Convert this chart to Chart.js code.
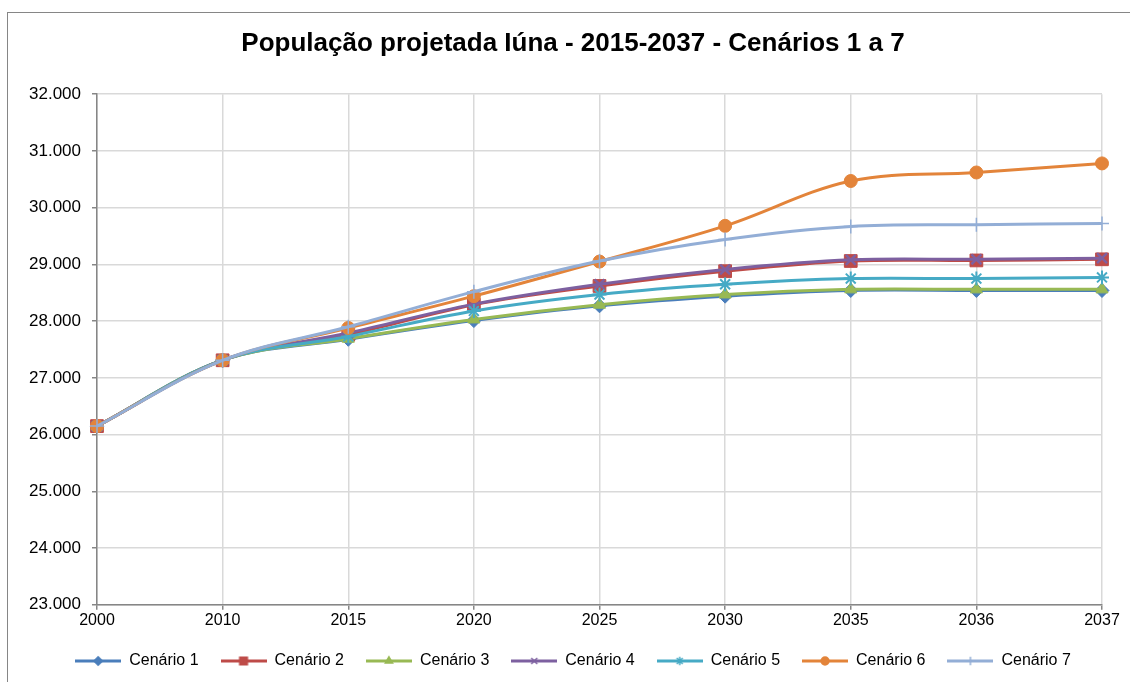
<!DOCTYPE html>
<html lang="pt-BR">
<head>
  <meta charset="UTF-8">
  <title>População projetada Iúna - 2015-2037</title>
  <script src="https://cdn.jsdelivr.net/npm/chart.js"></script>
  <style>
    html, body { margin: 0; padding: 0; background: #fff; overflow: hidden; }
    /* moldura do gráfico (sai pela direita e por baixo, como no original) */
    .chart-frame {
      position: absolute;
      left: 7px;
      top: 12px;
      width: 1140px;
      height: 700px;
      border-left: 1px solid #868686;
      border-top: 1px solid #868686;
    }
  </style>
</head>
<body>
  <div class="chart-frame">
    <canvas id="popChart" width="1130" height="669"></canvas>
  </div>

  <script>
    // anos (categorias do eixo x)
    const anos = ['2000', '2010', '2015', '2020', '2025', '2030', '2035', '2036', '2037'];

    // população projetada por cenário
    const cenario1 = [26150, 27310, 27680, 28010, 28270, 28440, 28540, 28540, 28540];
    const cenario2 = [26150, 27310, 27760, 28290, 28620, 28880, 29060, 29070, 29090];
    const cenario3 = [26150, 27310, 27690, 28030, 28290, 28470, 28560, 28560, 28560];
    const cenario4 = [26150, 27310, 27790, 28300, 28650, 28910, 29080, 29090, 29110];
    const cenario5 = [26150, 27310, 27730, 28180, 28470, 28650, 28750, 28750, 28770];
    const cenario6 = [26150, 27310, 27880, 28440, 29050, 29680, 30470, 30620, 30780];
    const cenario7 = [26150, 27310, 27900, 28520, 29060, 29440, 29670, 29700, 29720];

    const nomes = ['Cenário 1', 'Cenário 2', 'Cenário 3', 'Cenário 4', 'Cenário 5', 'Cenário 6', 'Cenário 7'];
    const series = [cenario1, cenario2, cenario3, cenario4, cenario5, cenario6, cenario7];

    // limites do eixo y
    const yMin = 23000;
    const yMax = 32000;
    const yStep = 1000;

    const cores = ['#4A7EBB', '#BE4B48', '#98B954', '#7D60A0', '#46AAC5', '#E3843A', '#93AED6'];
    const marcadores = ['rectRot', 'rect', 'triangle', 'crossRot', 'star', 'circle', 'cross'];
    const raios = [7, 9, 7, 7, 7, 6.5, 7];
    const espessuras = [1, 1, 1, 2.5, 2, 1, 1.5];

    const fonte = "'Liberation Sans', Arial, sans-serif";

    function formataMilhar(v) {
      return String(v).replace(/\B(?=(\d{3})+(?!\d))/g, '.');
    }

    // ícones da legenda: linha com o marcador no meio
    function iconeLegenda(i) {
      const c = document.createElement('canvas');
      c.width = 46;
      c.height = 14;
      const ctx = c.getContext('2d');
      ctx.strokeStyle = cores[i];
      ctx.fillStyle = cores[i];
      ctx.lineWidth = 3;
      ctx.beginPath();
      ctx.moveTo(0, 7);
      ctx.lineTo(46, 7);
      ctx.stroke();
      ctx.lineWidth = 1.5;
      Chart.helpers.drawPoint(ctx, { pointStyle: marcadores[i], radius: raios[i] * 0.6, borderWidth: 1.5, rotation: 0 }, 23, 7);
      return c;
    }
    const icones = nomes.map((_, i) => iconeLegenda(i));

    const datasets = series.map((dados, i) => ({
      label: nomes[i],
      data: dados,
      borderColor: cores[i],
      backgroundColor: cores[i],
      borderWidth: 3,
      tension: 0.35,
      pointStyle: marcadores[i],
      pointRadius: raios[i],
      pointBorderWidth: espessuras[i],
      pointBackgroundColor: cores[i],
      pointBorderColor: cores[i],
      order: series.length - i // cenário 7 desenhado por cima
    }));

    // título e legenda centrados na largura toda do canvas
    const centraCaixas = {
      id: 'centraCaixas',
      afterLayout(ch) {
        [ch.titleBlock, ch.legend].forEach(b => {
          if (b) { b.left = 0; b.right = ch.width; b.width = ch.width; }
        });
      }
    };

    const chart = new Chart(document.getElementById('popChart'), {
      type: 'line',
      data: { labels: anos, datasets: datasets },
      plugins: [centraCaixas],
      options: {
        responsive: false,
        animation: false,
        layout: { padding: { left: 0, right: 36, top: 0, bottom: 3 } },
        plugins: {
          title: {
            display: true,
            text: 'População projetada Iúna - 2015-2037 - Cenários 1 a 7',
            color: '#000',
            font: { family: fonte, size: 26, weight: 'bold' },
            padding: { top: 15, bottom: 35 }
          },
          legend: {
            position: 'bottom',
            labels: {
              usePointStyle: true,
              pointStyleWidth: 46,
              padding: 22,
              color: '#000',
              font: { family: fonte, size: 16 },
              generateLabels: (ch) => {
                const itens = Chart.defaults.plugins.legend.labels.generateLabels(ch);
                itens.forEach(it => { it.pointStyle = icones[it.datasetIndex]; });
                return itens;
              },
              sort: (a, b) => a.datasetIndex - b.datasetIndex
            }
          },
          tooltip: { enabled: false }
        },
        scales: {
          x: {
            offset: false,
            grid: { color: '#D9D9D9', tickColor: '#868686', tickLength: 5, lineWidth: 1.5 },
            border: { color: '#868686', width: 1.5 },
            ticks: { color: '#000', padding: 1, font: { family: fonte, size: 16 }, maxRotation: 0 }
          },
          y: {
            min: yMin,
            max: yMax,
            grid: { color: '#D9D9D9', tickColor: '#868686', tickLength: 5, lineWidth: 1.5 },
            border: { color: '#868686', width: 1.5 },
            ticks: {
              stepSize: yStep,
              color: '#000',
              padding: 11,
              font: { family: fonte, size: 17 },
              callback: (v) => formataMilhar(v)
            },
            afterFit: (scale) => { scale.width = 89; }
          }
        }
      }
    });
  </script>
</body>
</html>
